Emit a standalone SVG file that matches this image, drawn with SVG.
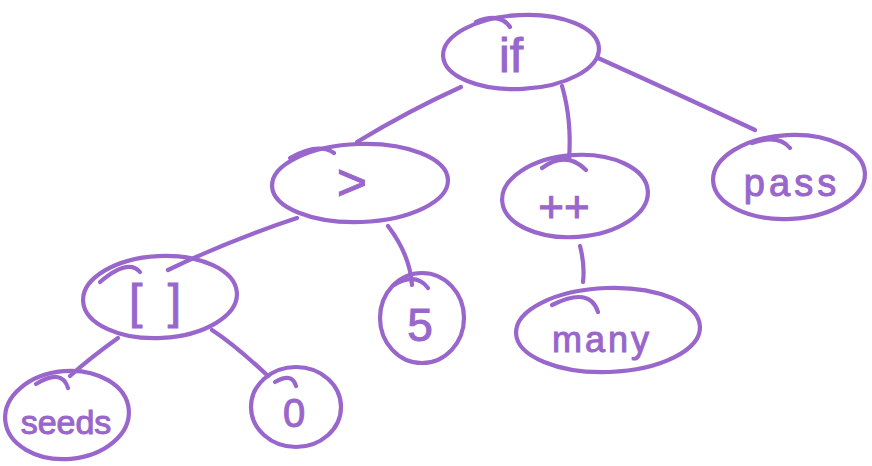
<svg xmlns="http://www.w3.org/2000/svg" width="872" height="466" viewBox="0 0 872 466">
  <style>
    .ink { fill: none; stroke: #9966cc; stroke-width: 4.2; stroke-linecap: round; stroke-linejoin: round; }
    .lbl { fill: #9966cc; stroke: #9966cc; stroke-width: 1; font-family: "Liberation Sans", "DejaVu Sans", sans-serif; text-anchor: middle; }
  </style>
  <rect width="872" height="466" fill="#ffffff"/>

  <!-- connectors -->
  <g id="edges" class="ink">
    <path d="M461,87 Q410,110 357,142"/>
    <path d="M562,86 Q572,120 569,160"/>
    <path d="M598,58 Q680,95 755,130"/>
    <path d="M297,218 Q230,240 168,270"/>
    <path d="M388,226 Q410,255 412,285"/>
    <path d="M580,246 Q585,265 583,282"/>
    <path d="M118,338 Q90,358 70,376"/>
    <path d="M212,330 Q235,345 268,376"/>
  </g>

  <g id="node-if">
    <ellipse class="ink" cx="521" cy="52" rx="78" ry="37" transform="rotate(-3 521 52)"/>
    <path class="ink" d="M476,22 Q500,12 510,27"/>
    <text class="lbl" x="511" y="72" font-size="48">if</text>
  </g>

  <g id="node-gt">
    <ellipse class="ink" cx="360" cy="183" rx="88" ry="39" transform="rotate(-2 360 183)"/>
    <path class="ink" d="M290,158 Q318,142 334,153"/>
    <text class="lbl" x="352" y="200" font-size="52">&gt;</text>
  </g>

  <g id="node-inc">
    <ellipse class="ink" cx="575" cy="196" rx="73" ry="41" transform="rotate(-4 575 196)"/>
    <path class="ink" d="M542,168 Q566,150 586,170"/>
    <text class="lbl" x="564" y="222" font-size="44">++</text>
  </g>

  <g id="node-pass">
    <ellipse class="ink" cx="789" cy="177" rx="76" ry="42" transform="rotate(-3 789 177)"/>
    <path class="ink" d="M752,143 Q778,134 790,148"/>
    <text class="lbl" x="792" y="196" font-size="38" letter-spacing="4">pass</text>
  </g>

  <g id="node-index">
    <ellipse class="ink" cx="160" cy="297" rx="77" ry="41" transform="rotate(-3 160 297)"/>
    <path class="ink" d="M100,282 Q128,258 140,272"/>
    <text class="lbl" x="158" y="318" font-size="48" letter-spacing="6">[ ]</text>
  </g>

  <g id="node-5">
    <ellipse class="ink" cx="422" cy="318" rx="42" ry="45"/>
    <path class="ink" d="M394,285 Q416,272 428,288"/>
    <text class="lbl" x="420" y="341" font-size="46">5</text>
  </g>

  <g id="node-many">
    <ellipse class="ink" cx="608" cy="330" rx="92" ry="42" transform="rotate(-2 608 330)"/>
    <path class="ink" d="M552,305 Q590,286 598,312"/>
    <text class="lbl" x="602" y="352" font-size="36" letter-spacing="3">many</text>
  </g>

  <g id="node-seeds">
    <ellipse class="ink" cx="67" cy="415" rx="62" ry="44" transform="rotate(-5 67 415)"/>
    <path class="ink" d="M36,384 Q62,368 68,388"/>
    <text class="lbl" x="66" y="434" font-size="34">seeds</text>
  </g>

  <g id="node-0">
    <ellipse class="ink" cx="296" cy="407" rx="45" ry="40"/>
    <path class="ink" d="M275,382 Q292,372 296,386"/>
    <text class="lbl" x="294" y="427" font-size="40">0</text>
  </g>
</svg>
